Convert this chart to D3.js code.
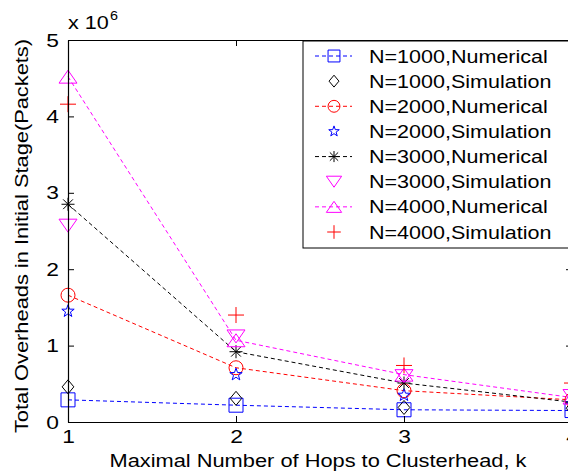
<!DOCTYPE html>
<html>
<head>
<meta charset="utf-8">
<script src="https://cdn.jsdelivr.net/npm/d3@7/dist/d3.min.js"></script>
<style>
  body { margin: 0; background: #fff; }
  svg { display: block; overflow: hidden; }
  text { font-family: "Liberation Sans", Arial, Helvetica, sans-serif; }
</style>
</head>
<body>
<svg id="chart" width="568" height="476"></svg>
<script>
// hops k
var hops = [1, 2, 3, 4];
var yTicks = [0, 1, 2, 3, 4, 5];

// overheads, in units of 1e6 packets
var num1000 = [0.29, 0.22, 0.16, 0.15];
var sim1000 = [0.46, 0.31, 0.19, 0.18];
var num2000 = [1.66, 0.71, 0.41, 0.29];
var sim2000 = [1.45, 0.62, 0.35, 0.24];
var num3000 = [2.85, 0.92, 0.51, 0.26];
var sim3000 = [2.57, 1.12, 0.60, 0.34];
var num4000 = [4.52, 1.07, 0.62, 0.32];
var sim4000 = [4.16, 1.40, 0.74, 0.51];

var labels = ["N=1000,Numerical", "N=1000,Simulation", "N=2000,Numerical", "N=2000,Simulation",
              "N=3000,Numerical", "N=3000,Simulation", "N=4000,Numerical", "N=4000,Simulation"];

var series = [
  {values: num1000, color: "#0000ff", marker: "square", line: true},
  {values: sim1000, color: "#000000", marker: "diamond", line: false},
  {values: num2000, color: "#ff0000", marker: "circle", line: true},
  {values: sim2000, color: "#0000ff", marker: "star", line: false},
  {values: num3000, color: "#000000", marker: "asterisk", line: true},
  {values: sim3000, color: "#ff00ff", marker: "triDown", line: false},
  {values: num4000, color: "#ff00ff", marker: "triUp", line: true},
  {values: sim4000, color: "#ff0000", marker: "plus", line: false}
];

var svg = d3.select("#chart");
var plotLeft = 68, plotRight = 572, plotTop = 40, plotBottom = 422;
var sx = 1.2; // text looks horizontally stretched in the original

var x = d3.scaleLinear().domain([1, 4]).range([plotLeft, plotRight]);
var y = d3.scaleLinear().domain([0, 5]).range([plotBottom, plotTop]);

svg.append("rect").attr("width", 568).attr("height", 476).attr("fill", "#fff");

// marker paths (outline only, like matlab)
function markerPath(type, s) {
  var p = d3.path();
  if (type === "square") {
    p.rect(-s / 2, -s / 2, s, s);
  } else if (type === "diamond") {
    p.moveTo(0, -s / 2); p.lineTo(s / 2.4, 0); p.lineTo(0, s / 2); p.lineTo(-s / 2.4, 0); p.closePath();
  } else if (type === "circle") {
    p.arc(0, 0, s / 2, 0, 2 * Math.PI);
  } else if (type === "star") {
    for (var i = 0; i < 10; i++) {
      var r = i % 2 === 0 ? s / 2 : s / 5;
      var a = -Math.PI / 2 + i * Math.PI / 5;
      if (i === 0) p.moveTo(r * Math.cos(a), r * Math.sin(a));
      else p.lineTo(r * Math.cos(a), r * Math.sin(a));
    }
    p.closePath();
  } else if (type === "asterisk") {
    var h = s / 2, d = h * 0.75;
    p.moveTo(-h, 0); p.lineTo(h, 0);
    p.moveTo(0, -h); p.lineTo(0, h);
    p.moveTo(-d, -d); p.lineTo(d, d);
    p.moveTo(-d, d); p.lineTo(d, -d);
  } else if (type === "triDown") {
    p.moveTo(-s / 2, -s * 0.36); p.lineTo(s / 2, -s * 0.36); p.lineTo(0, s * 0.36); p.closePath();
  } else if (type === "triUp") {
    p.moveTo(-s / 2, s * 0.36); p.lineTo(s / 2, s * 0.36); p.lineTo(0, -s * 0.36); p.closePath();
  } else if (type === "plus") {
    p.moveTo(-s / 2, 0); p.lineTo(s / 2, 0);
    p.moveTo(0, -s / 2); p.lineTo(0, s / 2);
  }
  return p.toString();
}
var markerSize = {square: 14, diamond: 14, circle: 14, star: 13, asterisk: 13, triDown: 18, triUp: 18, plus: 16};

// lines
var line = d3.line().x(function(d, i) { return x(hops[i]); }).y(function(d) { return y(d); });
var plot = svg.append("g");
series.forEach(function(s) {
  if (s.line) {
    plot.append("path")
      .attr("d", line(s.values))
      .attr("fill", "none")
      .attr("stroke", s.color)
      .attr("stroke-width", 1)
      .attr("stroke-dasharray", "4,3");
  }
});
series.forEach(function(s) {
  plot.selectAll(null).data(s.values).enter().append("path")
    .attr("transform", function(d, i) { return "translate(" + x(hops[i]) + "," + y(d) + ")"; })
    .attr("d", markerPath(s.marker, markerSize[s.marker]))
    .attr("fill", "none")
    .attr("stroke", s.color)
    .attr("stroke-width", 1);
});

// axes
var gx = svg.append("g").attr("transform", "translate(0," + plotBottom + ")")
  .call(d3.axisBottom(x).tickValues(hops).tickFormat(d3.format("d")).tickSizeInner(-6).tickSizeOuter(0).tickPadding(8));
var gy = svg.append("g").attr("transform", "translate(" + plotLeft + ",0)")
  .call(d3.axisLeft(y).tickValues(yTicks).tickFormat(d3.format("d")).tickSizeInner(-6).tickSizeOuter(0).tickPadding(7));
var gt = svg.append("g").attr("transform", "translate(0," + plotTop + ")")
  .call(d3.axisTop(x).tickValues(hops).tickFormat("").tickSizeInner(-6).tickSizeOuter(0));
var gr = svg.append("g").attr("transform", "translate(" + plotRight + ",0)")
  .call(d3.axisRight(y).tickValues(yTicks).tickFormat("").tickSizeInner(-6).tickSizeOuter(0));

[gx, gy, gt, gr].forEach(function(g) {
  g.select(".domain").attr("stroke", "#000").attr("stroke-width", 1.2);
  g.selectAll(".tick line").attr("stroke", "#000");
  g.selectAll("text").attr("font-size", 19).attr("fill", "#000")
    .attr("font-family", null)
    .attr("transform", "scale(" + sx + ",1)");
});
gy.selectAll("text").attr("x", -7.5);

// exponent label
svg.append("text").attr("transform", "translate(68,29) scale(" + sx + ",1)")
  .attr("font-size", 18).text("x 10");
svg.append("text").attr("transform", "translate(110,20) scale(" + sx + ",1)")
  .attr("font-size", 12).text("6");

// axis titles
svg.append("text")
  .attr("transform", "translate(318,467) scale(1.18,1)")
  .attr("text-anchor", "middle").attr("font-size", 18.5)
  .text("Maximal Number of Hops to Clusterhead, k");
svg.append("text")
  .attr("transform", "translate(28,236) rotate(-90) scale(1.18,1)")
  .attr("text-anchor", "middle").attr("font-size", 18.5)
  .text("Total Overheads in Initial Stage(Packets)");

// legend
var leg = svg.append("g");
leg.append("rect").attr("x", 303).attr("y", 41).attr("width", 280).attr("height", 207)
  .attr("fill", "#fff").attr("stroke", "#000").attr("stroke-width", 1);
var rowY = d3.scalePoint().domain(d3.range(labels.length)).range([56, 232]);
series.forEach(function(s, i) {
  var cy = rowY(i);
  if (s.line) {
    leg.append("line").attr("x1", 315).attr("x2", 352).attr("y1", cy).attr("y2", cy)
      .attr("stroke", s.color).attr("stroke-dasharray", "4,3");
  }
  leg.append("path")
    .attr("transform", "translate(334," + cy + ")")
    .attr("d", markerPath(s.marker, markerSize[s.marker] * 0.85))
    .attr("fill", "none").attr("stroke", s.color);
  leg.append("text")
    .attr("transform", "translate(369," + (cy + 6.5) + ") scale(1.23,1)")
    .attr("font-size", 17.5).text(labels[i]);
});
</script>
</body>
</html>
